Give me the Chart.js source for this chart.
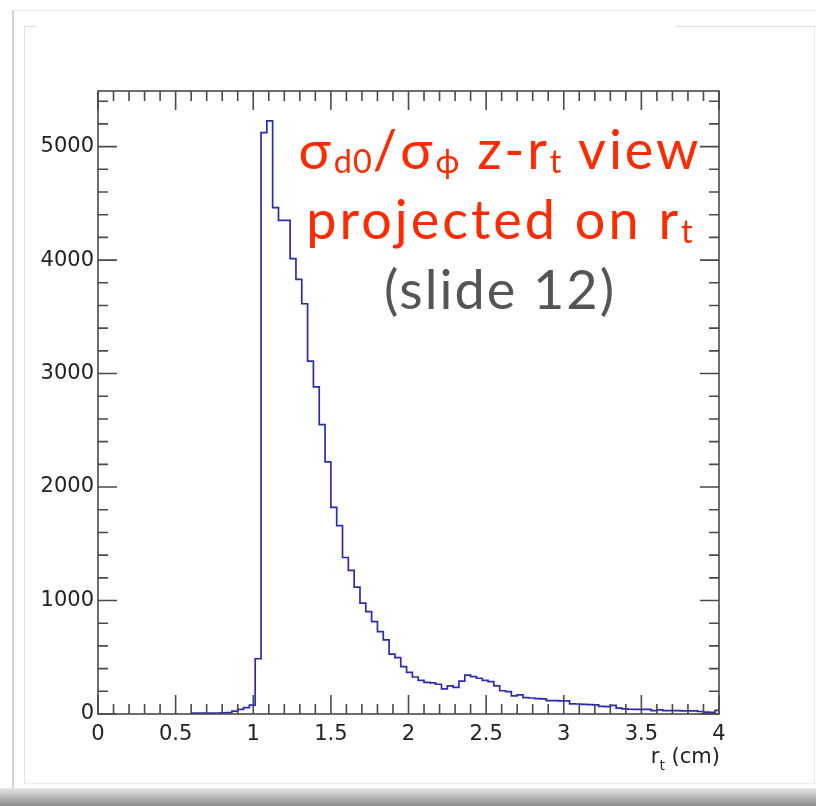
<!DOCTYPE html>
<html>
<head>
<meta charset="utf-8">
<script src="https://cdn.jsdelivr.net/npm/chart.js@4.4.1/dist/chart.umd.min.js"></script>
<style>
  body { margin: 0; background: #fff; overflow: hidden; }
  #wrap { position: relative; width: 816px; height: 806px; }
  .deco { position: absolute; }
  canvas { position: absolute; left: 0; top: 0; }
  .note { position: absolute; left: 200px; width: 600px; text-align: center;
          font-family: Lato, "Noto Sans", sans-serif; font-size: 54px; line-height: 54px;
          letter-spacing: 3px; white-space: nowrap; }
  .note sub { font-size: 0.6em; vertical-align: -0.12em; line-height: 0; letter-spacing: 1px; }
  .red { color: #ff2a00; }
  .grey { color: #555; letter-spacing: 2px; }
</style>
</head>
<body>
<div id="wrap">
  <div class="deco" style="left:12px;top:10px;width:2px;height:778px;background:#d4d4d4"></div>
  <div class="deco" style="left:14px;top:10px;width:802px;height:1px;background:#eee"></div>
  <div class="deco" style="left:24px;top:26px;width:1px;height:757px;background:#e4e4e4"></div>
  <div class="deco" style="left:24px;top:26px;width:13px;height:1px;background:#ddd"></div>
  <div class="deco" style="left:675px;top:26px;width:141px;height:1px;background:#ddd"></div>
  <div class="deco" style="left:814px;top:26px;width:1px;height:757px;background:#e8e8e8"></div>
  <div class="deco" style="left:24px;top:783px;width:792px;height:1px;background:#eee"></div>
  <div class="deco" style="left:0;top:788px;width:816px;height:18px;background:linear-gradient(to bottom,#e6e6e6,#8c8c8c)"></div>
  <canvas id="hist" width="816" height="806"></canvas>
  <div class="note red" style="top:122px">σ<sub>d0</sub>/σ<sub>ϕ</sub> z-r<sub>t</sub> view</div>
  <div class="note red" style="top:192px">projected on r<sub>t</sub></div>
  <div class="note grey" style="top:262px">(slide 12)</div>
</div>
<script>
// histogram binning (r_t in cm) and bin contents
var binLow = 0.6;
var binWidth = 0.0375;
var counts = [8, 7, 8, 8, 9, 10, 12, 26, 41, 56, 79, 487,
  5124, 5226, 4462, 4350, 4350, 4012, 3830, 3615, 3109, 2883, 2550, 2221,
  1820, 1660, 1379, 1265, 1118, 977, 903, 814, 726, 653, 527, 497,
  417, 366, 326, 296, 278, 274, 262, 222, 247, 234, 290, 343,
  329, 315, 296, 285, 247, 205, 197, 160, 168, 145, 141, 136,
  134, 118, 117, 116, 115, 90, 88, 85, 82, 80, 68, 65,
  76, 52, 45, 42, 40, 40, 40, 30, 36, 30, 29, 29,
  28, 28, 28, 22, 16, 15, 32];
var xTicks = [0, 0.5, 1, 1.5, 2, 2.5, 3, 3.5, 4];
var yTicks = [0, 1000, 2000, 3000, 4000, 5000];
var xMax = 4, yMax = 5490;

var axisColor = "#4a4a4a";
var labelFont = {family: "'DejaVu Sans', sans-serif", size: 21};

var points = counts.map(function(c, i) { return {x: binLow + i * binWidth, y: c}; });
points.push({x: binLow + counts.length * binWidth, y: counts[counts.length - 1]});

// ROOT style frame: box plus inward ticks on all four sides
var rootFrame = {
  id: "rootFrame",
  afterDatasetsDraw: function(chart) {
    var ctx = chart.ctx, a = chart.chartArea;
    var xs = chart.scales.x, ys = chart.scales.y;
    ctx.save();
    ctx.strokeStyle = axisColor;
    ctx.lineWidth = 1.6;
    ctx.strokeRect(a.left, a.top, a.right - a.left, a.bottom - a.top);
    ctx.beginPath();
    for (var i = 0; i <= 40; i++) {
      var px = xs.getPixelForValue(i / 10);
      var len = (i % 5 === 0) ? 19 : 10;
      ctx.moveTo(px, a.bottom); ctx.lineTo(px, a.bottom - len);
      ctx.moveTo(px, a.top); ctx.lineTo(px, a.top + len);
    }
    for (var j = 0; j * 200 <= yMax; j++) {
      var py = ys.getPixelForValue(j * 200);
      var l2 = (j % 5 === 0) ? 19 : 10;
      ctx.moveTo(a.left, py); ctx.lineTo(a.left + l2, py);
      ctx.moveTo(a.right, py); ctx.lineTo(a.right - l2, py);
    }
    ctx.stroke();

    // axis title r_t (cm), right aligned under the axis
    ctx.fillStyle = "#222";
    ctx.textBaseline = "alphabetic";
    var big = "21px 'DejaVu Sans', sans-serif", small = "14px 'DejaVu Sans', sans-serif";
    ctx.font = big;
    var tail = " (cm)";
    var wTail = ctx.measureText(tail).width;
    var wR = ctx.measureText("r").width;
    ctx.font = small;
    var wT = ctx.measureText("t").width;
    var x0 = a.right + 1 - wTail - wT - wR;
    var base = a.bottom + 49;
    ctx.font = big;
    ctx.fillText("r", x0, base);
    ctx.fillText(tail, x0 + wR + wT, base);
    ctx.font = small;
    ctx.fillText("t", x0 + wR, base + 7);
    ctx.restore();
  }
};

new Chart(document.getElementById("hist"), {
  type: "line",
  data: {
    datasets: [{
      data: points,
      stepped: "before",
      borderColor: "#2b2bb2",
      borderWidth: 1.7,
      pointRadius: 0,
      fill: false
    }]
  },
  options: {
    responsive: false,
    animation: false,
    layout: {padding: {left: 0, top: 91, right: 97, bottom: 0}},
    plugins: {legend: {display: false}, tooltip: {enabled: false}},
    scales: {
      x: {
        type: "linear", min: 0, max: xMax,
        grid: {display: false, drawTicks: false},
        border: {display: false},
        afterBuildTicks: function(s) { s.ticks = xTicks.map(function(v) { return {value: v}; }); },
        afterFit: function(s) { s.height = 92; },
        ticks: {
          padding: 8, color: "#222", font: labelFont, maxRotation: 0, autoSkip: false,
          callback: function(v) { return String(v); }
        }
      },
      y: {
        type: "linear", min: 0, max: yMax,
        grid: {display: false, drawTicks: false},
        border: {display: false},
        afterBuildTicks: function(s) { s.ticks = yTicks.map(function(v) { return {value: v}; }); },
        afterFit: function(s) { s.width = 98; },
        ticks: {
          padding: 4, color: "#222", font: labelFont,
          callback: function(v) { return String(v); }
        }
      }
    }
  },
  plugins: [rootFrame]
});
</script>
</body>
</html>
